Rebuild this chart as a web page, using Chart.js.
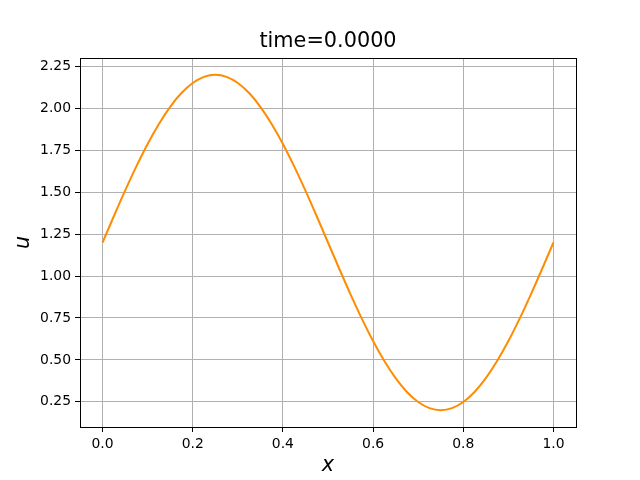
<!DOCTYPE html>
<html><head><meta charset="utf-8">
<script src="https://cdn.jsdelivr.net/npm/chart.js@4/dist/chart.umd.min.js"></script>
<style>html,body{margin:0;padding:0;background:#fff}#wrap{width:640px;height:480px;position:relative}</style>
</head><body><div id="wrap"><canvas id="c" width="640" height="480"></canvas></div>
<script>
const titleText = "time=0.0000";
const xLabel = "x";
const yLabel = "u";
const xValues = [0,0.025,0.05,0.075,0.1,0.125,0.15,0.175,0.2,0.225,0.25,0.275,0.3,0.325,0.35,0.375,0.4,0.425,0.45,0.475,0.5,0.525,0.55,0.575,0.6,0.625,0.65,0.675,0.7,0.725,0.75,0.775,0.8,0.825,0.85,0.875,0.9,0.925,0.95,0.975,1.0];
const uValues = [1.2,1.3564,1.509,1.654,1.7878,1.9071,2.009,2.091,2.1511,2.1877,2.2,2.1877,2.1511,2.091,2.009,1.9071,1.7878,1.654,1.509,1.3564,1.2,1.0436,0.891,0.746,0.6122,0.4929,0.391,0.309,0.2489,0.2123,0.2,0.2123,0.2489,0.309,0.391,0.4929,0.6122,0.746,0.891,1.0436,1.2];
const xTicks = [0.0,0.2,0.4,0.6,0.8,1.0];
const yTicks = [0.25,0.5,0.75,1.0,1.25,1.5,1.75,2.0,2.25];

const FONT = "'DejaVu Sans', sans-serif";
const overlay = {
  id: 'overlay',
  afterDraw(chart) {
    const ctx = chart.ctx, a = chart.chartArea;
    ctx.save();
    ctx.strokeStyle = '#000'; ctx.lineWidth = 1;
    ctx.strokeRect(Math.round(a.left)+0.5, Math.round(a.top)+0.5, Math.round(a.right-a.left), Math.round(a.bottom-a.top));
    ctx.fillStyle = '#000';
    ctx.textAlign = 'center'; ctx.textBaseline = 'alphabetic';
    ctx.font = "20.8px " + FONT;
    ctx.fillText(titleText, (a.left+a.right)/2, 47);
    ctx.font = "italic 20.8px " + FONT;
    ctx.fillText(xLabel, (a.left+a.right)/2, 471);
    ctx.translate(29, (a.top+a.bottom)/2);
    ctx.rotate(-Math.PI/2);
    ctx.fillText(yLabel, 0, 0);
    ctx.restore();
  }
};

new Chart(document.getElementById('c'), {
  type: 'line',
  data: { datasets: [{
    data: xValues.map((x,i)=>({x:x, y:uValues[i]})),
    borderColor: '#ff8c00', borderWidth: 2, pointRadius: 0,
    cubicInterpolationMode: 'monotone', fill: false
  }]},
  options: {
    responsive: false, animation: false, devicePixelRatio: 1,
    layout: { padding: { left: 0, right: 64, top: 58, bottom: 0 } },
    plugins: { legend: { display: false }, tooltip: { enabled: false }, title: { display: false } },
    scales: {
      x: {
        type: 'linear', min: -0.05, max: 1.05,
        afterBuildTicks: s => { s.ticks = xTicks.map(v => ({value: v})); },
        afterFit: s => { s.height = 53; },
        grid: { color: '#b0b0b0', lineWidth: 1, tickColor: '#000', tickLength: 5, drawTicks: true },
        border: { display: false },
        ticks: { color: '#000', font: { family: FONT, size: 13.9 }, padding: 4, maxRotation: 0,
                 callback: v => Number(v).toFixed(1) }
      },
      y: {
        type: 'linear', min: 0.1, max: 2.3,
        afterBuildTicks: s => { s.ticks = yTicks.map(v => ({value: v})); },
        afterFit: s => { s.width = 80; },
        grid: { color: '#b0b0b0', lineWidth: 1, tickColor: '#000', tickLength: 5, drawTicks: true },
        border: { display: false },
        ticks: { color: '#000', font: { family: FONT, size: 13.9 }, padding: 4,
                 callback: v => Number(v).toFixed(2) }
      }
    }
  },
  plugins: [overlay]
});
</script></body></html>
